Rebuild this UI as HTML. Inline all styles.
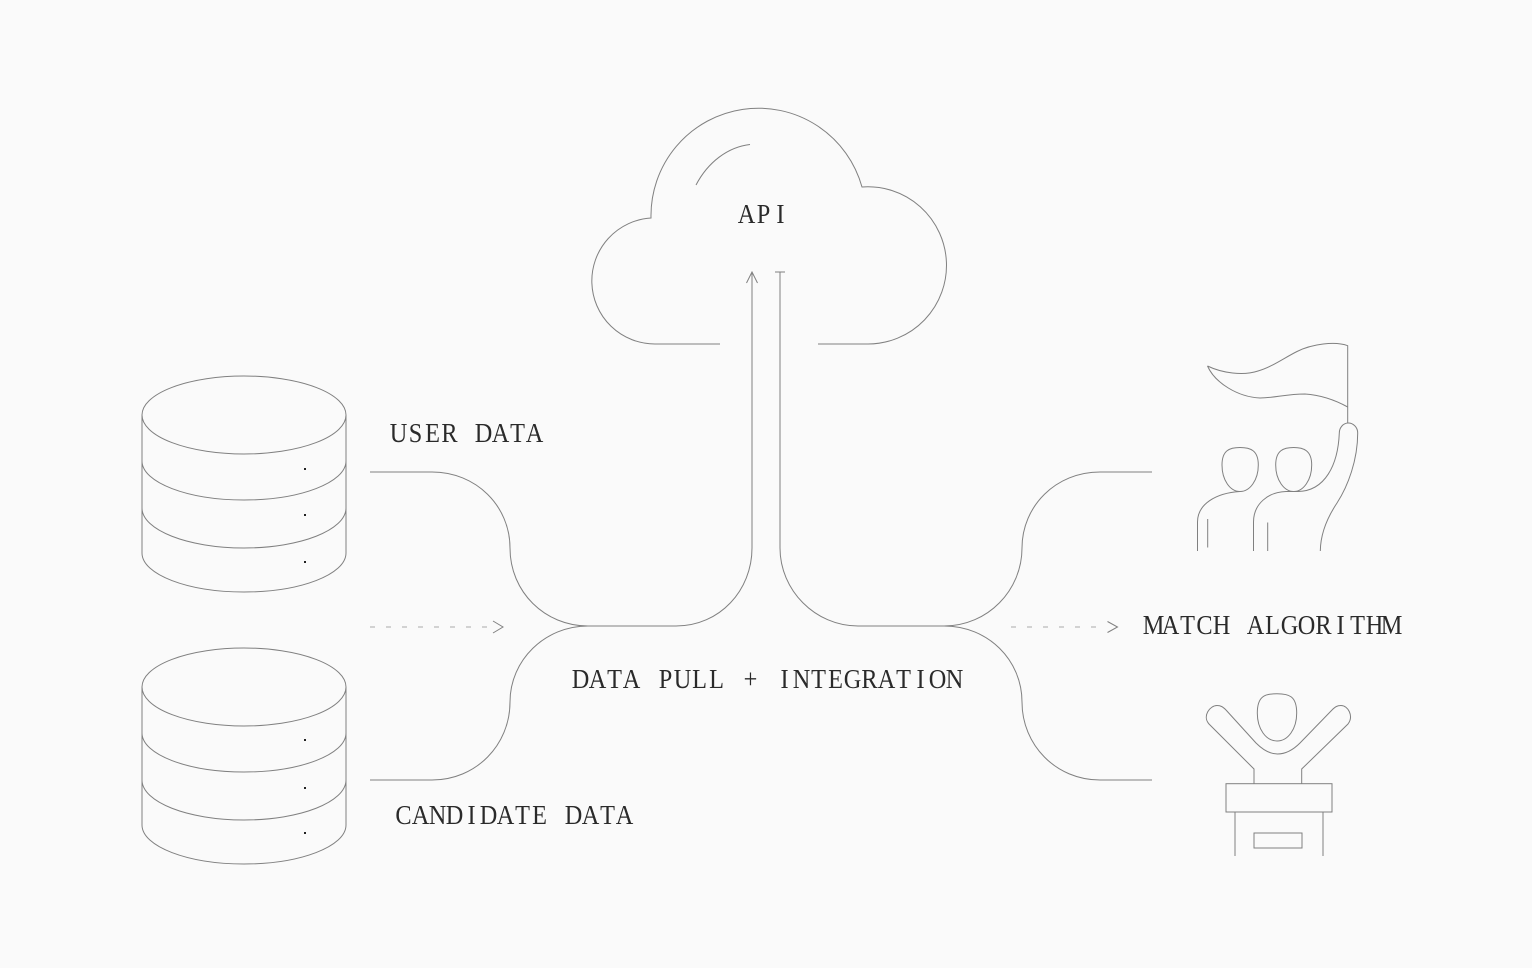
<!DOCTYPE html>
<html><head><meta charset="utf-8"><style>
html,body{margin:0;padding:0;background:#fafafa}
svg{display:block}
text{font-family:"Liberation Serif",serif;font-size:27px;fill:#2a2a2a;text-anchor:middle}
.l{fill:none;stroke:#808080;stroke-width:1}
.d{fill:none;stroke:#aaa;stroke-width:1;stroke-dasharray:5 11}
</style></head><body>
<svg width="1532" height="968" viewBox="0 0 1532 968" xmlns="http://www.w3.org/2000/svg">
<rect width="1532" height="968" fill="#fafafa"/>
<g>
<g class="l">
<ellipse cx="244" cy="415" rx="102" ry="39"/>
<path d="M142 415V553C142 574.500 187.700 592 244 592S346 574.500 346 553V415"/>
<path d="M142 461C142 482.500 187.700 500 244 500S346 482.500 346 461"/>
<path d="M142 508C142 530 187.700 548 244 548S346 530 346 508"/>
</g>
<g fill="#222"><rect x="304" y="468" width="2" height="2"/><rect x="304" y="514" width="2" height="2"/><rect x="304" y="561" width="2" height="2"/></g>
</g>
<g>
<g class="l">
<ellipse cx="244" cy="687" rx="102" ry="39"/>
<path d="M142 687V825C142 846.500 187.700 864 244 864S346 846.500 346 825V687"/>
<path d="M142 733C142 754.500 187.700 772 244 772S346 754.500 346 733"/>
<path d="M142 780C142 802 187.700 820 244 820S346 802 346 780"/>
</g>
<g fill="#222"><rect x="304" y="739" width="2" height="2"/><rect x="304" y="787" width="2" height="2"/><rect x="304" y="832" width="2" height="2"/></g>
</g>
<g class="l">
<path d="M370 472H432C476 472 510 506 510 548C510 592 545 626 588 626H676C720 626 752 590 752 548V272"/>
<path d="M746.500 283L752 272L757.500 283"/>
<path d="M370 780H432C476 780 510 745 510 702C510 660 545 626 588 626"/>
<path d="M775 272H785M780 272V548C780 590 815 626 858 626H944C988 626 1022 590 1022 548C1022 506 1056 472 1100 472H1152"/>
<path d="M944 626C988 626 1022 660 1022 702C1022 745 1056 780 1100 780H1152"/>
<path d="M720 344H655A63.060 63.060 0 0 1 651 218A107.460 107.460 0 0 1 862 187A78.610 78.610 0 1 1 868 344H818"/>
<path d="M696 185C708 162 728 147 750 144.500"/>
<path d="M493 621L503 627L493 633M1107.500 621.500L1117.500 627L1107.500 632.500"/>
<path d="M1207.500 366C1222 373 1243 376 1258 371C1272 367 1284 358 1297 351.500C1312 344 1335 341 1347.700 345.700V423"/>
<path d="M1207.500 366C1215 383 1238 397 1260 398C1275 398 1286 394 1305 394C1320 395 1335 400 1347.700 407"/>
<path d="M1320.300 551C1320.500 535 1327 518 1337 503C1348 486 1357.700 460 1357.700 433C1357.700 427 1353 423 1348.300 423C1343 423 1339.300 428 1339.300 433C1338 465 1325 491 1298 491.500H1286C1268 492 1253.500 504 1253.500 522V551"/>
<path d="M1240 447.500C1230 447.500 1222 450 1222 465C1222 480 1230 491.500 1240 491.500S1258.300 480 1258.300 465C1258.300 450 1250 447.500 1240 447.500Z"/>
<path d="M1293.700 447.500C1284 447.500 1275.700 450 1275.700 465C1275.700 480 1284 491.500 1293.700 491.500S1311.700 480 1311.700 465C1311.700 450 1303 447.500 1293.700 447.500Z"/>
<path d="M1240 491.500C1216 493 1197.500 504 1197.500 522V551M1207.700 519V547.500M1267.700 522.500V551"/>
<path d="M1277 693.700C1265 693.700 1257.300 696 1257.300 713C1257.300 729 1266 741 1277 741S1296.700 729 1296.700 713C1296.700 696 1289 693.700 1277 693.700Z"/>
<path d="M1254 783.700V769L1209 724C1202 716 1210 705.500 1217 705.500C1221 705.500 1223 707 1226 710L1256 743C1264 751 1271 754 1277.500 754C1284 754 1292 751 1300 743L1332 710C1335 707 1337 705.500 1341 705.500C1348 705.500 1354 716 1348 724L1301.700 769V783.700"/>
<rect x="1226" y="783.700" width="106" height="28.300"/>
<path d="M1235 812V856M1323 812V856"/>
<rect x="1254" y="833" width="48" height="15"/>
</g>
<path class="d" d="M370 627H492"/>
<path class="d" d="M1011 627H1106"/>
<g>
<text transform="translate(738 223) scale(.9 1)" x="9.44 28.33 47.22">API</text>
<text transform="translate(390 442) scale(.9 1)" x="9.44 28.33 47.22 66.11 85 103.89 122.78 141.67 160.56">USER DATA</text>
<text transform="translate(395 824) scale(.9 1)" x="9.44 28.33 47.22 66.11 85 103.89 122.78 141.67 160.56 179.44 198.33 217.22 236.11 255">CANDIDATE DATA</text>
<text transform="translate(572 688) scale(.9 1)" x="9.44 28.33 47.22 66.11 85 103.89 122.78 141.67 160.56 179.44 198.33 217.22 236.11 255 273.89 292.78 311.67 330.56 349.44 368.33 387.22 406.11 425">DATA PULL + INTEGRATION</text>
<text transform="translate(1145 634) scale(.9 1)" x="9.44 28.33 47.22 66.11 85 103.89 122.78 141.67 160.56 179.44 198.33 217.22 236.11 255 273.89">MATCH ALGORITHM</text>
</g>
</svg>
</body></html>
